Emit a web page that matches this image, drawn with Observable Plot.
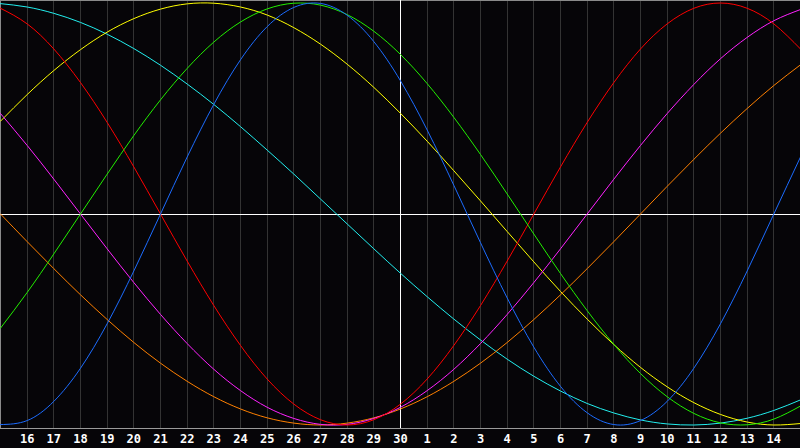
<!DOCTYPE html>
<html><head><meta charset="utf-8">
<script src="https://cdn.jsdelivr.net/npm/d3@7"></script>
<script src="https://cdn.jsdelivr.net/npm/@observablehq/plot@0.6"></script>
<style>html,body{margin:0;padding:0;background:#060508;} #chart svg{display:block}</style>
</head><body><div id="chart"></div>
<script>
// day index 0..30 -> calendar day label
const dayLabels = ["15","16","17","18","19","20","21","22","23","24","25","26","27","28","29","30",
  "1","2","3","4","5","6","7","8","9","10","11","12","13","14","15"];
const labelTicks = [1,2,3,4,5,6,7,8,9,10,11,12,13,14,15,16,17,18,19,20,21,22,23,24,25,26,27,28,29];
const todayIndex = 15;

// series values (-1..1), one per day index 0..30
const physical = [-0.998,-0.979,-0.888,-0.731,-0.520,-0.270,0.000,0.270,0.520,0.731,0.888,0.979,0.998,0.942,0.817,0.631,0.398,0.136,-0.136,-0.398,-0.631,-0.817,-0.942,-0.998,-0.979,-0.888,-0.731,-0.520,-0.270,0.000,0.270];
const emotional = [0.975,0.901,0.782,0.623,0.434,0.223,0.000,-0.223,-0.434,-0.623,-0.782,-0.901,-0.975,-1.000,-0.975,-0.901,-0.782,-0.623,-0.434,-0.223,0.000,0.223,0.434,0.623,0.782,0.901,0.975,1.000,0.975,0.901,0.782];
const intellectual = [-0.541,-0.372,-0.189,0.000,0.189,0.372,0.541,0.690,0.815,0.910,0.972,0.999,0.990,0.945,0.866,0.756,0.618,0.458,0.282,0.095,-0.095,-0.282,-0.458,-0.618,-0.756,-0.866,-0.945,-0.990,-0.999,-0.972,-0.910];
const intuitive = [0.476,0.325,0.165,0.000,-0.165,-0.325,-0.476,-0.614,-0.736,-0.837,-0.916,-0.969,-0.997,-0.997,-0.969,-0.916,-0.837,-0.736,-0.614,-0.476,-0.325,-0.165,0.000,0.165,0.325,0.476,0.614,0.736,0.837,0.916,0.969];
const aesthetic = [0.440,0.566,0.680,0.779,0.862,0.926,0.971,0.996,0.999,0.981,0.943,0.883,0.805,0.710,0.600,0.477,0.345,0.205,0.062,-0.083,-0.227,-0.367,-0.498,-0.619,-0.727,-0.819,-0.894,-0.950,-0.986,-1.000,-0.993];
const awareness = [0.000,-0.131,-0.259,-0.383,-0.500,-0.609,-0.707,-0.793,-0.866,-0.924,-0.966,-0.991,-1.000,-0.991,-0.966,-0.924,-0.866,-0.793,-0.707,-0.609,-0.500,-0.383,-0.259,-0.131,0.000,0.131,0.259,0.383,0.500,0.609,0.707];
const spiritual = [0.997,0.981,0.951,0.908,0.852,0.784,0.705,0.616,0.519,0.414,0.303,0.189,0.071,-0.047,-0.165,-0.281,-0.392,-0.498,-0.597,-0.688,-0.769,-0.839,-0.898,-0.943,-0.976,-0.995,-1.000,-0.991,-0.968,-0.931,-0.881];

const seriesNames = ["spiritual","aesthetic","awareness","intuitive","emotional","intellectual","physical"];
const seriesValues = [spiritual, aesthetic, awareness, intuitive, emotional, intellectual, physical];
const seriesColors = ["#22eeee","#ffff00","#ff8000","#ff22ff","#ff0000","#22ee00","#1c6cff"];

const rows = seriesNames.flatMap((name, k) => seriesValues[k].map((v, t) => ({name, t, v})));
const gridTicks = d3.range(0, 31);

const chart = Plot.plot({
  width: 800, height: 448,
  marginTop: 0, marginLeft: 0, marginRight: 0, marginBottom: 20,
  style: {background: "#060508", overflow: "visible"},
  x: {domain: [0, 30], axis: null},
  y: {domain: [-1, 1], range: [424.5, 2.5], axis: null},
  color: {domain: seriesNames, range: seriesColors},
  marks: [
    Plot.ruleX(gridTicks.filter(t => t !== 0 && t !== todayIndex), {stroke: "#333333", shapeRendering: "crispEdges"}),
    Plot.frame({anchor: "top", stroke: "#8a8a8a", shapeRendering: "crispEdges"}),
    Plot.frame({anchor: "left", stroke: "#8a8a8a", shapeRendering: "crispEdges"}),
    Plot.frame({anchor: "bottom", stroke: "#9a9a9a", shapeRendering: "crispEdges"}),
    Plot.ruleY([0], {stroke: "#ffffff", shapeRendering: "crispEdges"}),
    Plot.ruleX([todayIndex], {stroke: "#ffffff", shapeRendering: "crispEdges"}),
    Plot.line(rows, {x: "t", y: "v", z: "name", stroke: "name", strokeWidth: 1, curve: "natural"}),
    Plot.axisX(labelTicks, {
      tickFormat: t => dayLabels[t], tickSize: 0, tickPadding: 6,
      fontSize: 12, fontWeight: "bold", fontFamily: "DejaVu Sans Mono",
      fill: "#ffffff", label: null
    })
  ]
});
document.getElementById("chart").appendChild(chart);
</script>
</body></html>
